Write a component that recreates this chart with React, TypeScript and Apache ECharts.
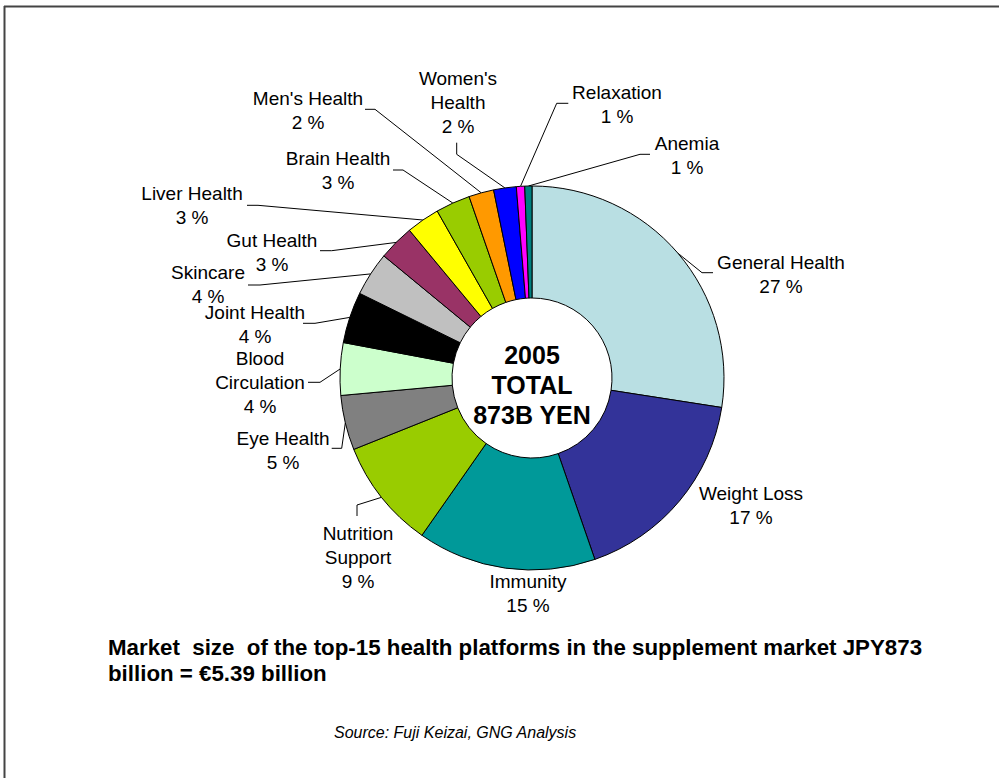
import React, { useEffect, useRef } from "react";
import * as echarts from "echarts";

// ---- Data ----
const categories = [
  "General Health",
  "Weight Loss",
  "Immunity",
  "Nutrition\nSupport",
  "Eye Health",
  "Blood\nCirculation",
  "Joint Health",
  "Skincare",
  "Gut Health",
  "Liver Health",
  "Brain Health",
  "Men's Health",
  "Women's\nHealth",
  "Relaxation",
  "Anemia",
];
// share of the market (%)
const shares = [27.4, 17.2, 15.0, 9.2, 4.6, 4.4, 4.3, 3.7, 3.0, 2.8, 2.9, 2.1, 1.9, 0.7, 0.6];
const colors = [
  "#B9DFE3", "#333399", "#009999", "#99CC00", "#808080",
  "#CCFFCC", "#000000", "#C0C0C0", "#993366", "#FFFF00",
  "#99CC00", "#FF9900", "#0000FF", "#FF00FF", "#008080",
];
const centerLines = ["2005", "TOTAL", "873B YEN"];
const titleLines = [
  "Market  size  of the top-15 health platforms in the supplement market JPY873",
  "billion = €5.39 billion",
];
const sourceText = "Source: Fuji Keizai, GNG Analysis";

// ---- Layout (positions only) ----
const CX = 532;
const CY = 378;
const R_OUT = 192;
const R_IN = 80;
// label block centres
const labelPos: number[][] = [
  [781, 274], [751, 505], [528, 593], [358, 557], [283, 450],
  [260, 382], [255, 324], [208, 284], [272, 252], [192, 205.5],
  [338, 170], [308, 110], [458, 102.5], [617, 104], [687, 155.5],
];
// leader line elbow + end, null = no leader
const leader: (number[] | null)[] = [
  [702, 272.7, 713, 272.7],
  null,
  null,
  [357, 505, 357, 516],
  [341.7, 448.3, 331.7, 448.3],
  [320, 382.3, 308, 382.3],
  [315, 323.3, 303, 323.3],
  [260, 285, 248, 285],
  [331.7, 250.7, 320, 250.7],
  [258, 205.3, 247, 205.3],
  [403, 170, 393, 170],
  [375, 109.3, 365, 109.3],
  [456.7, 154.3, 456.7, 142.7],
  [556.7, 103.3, 568.3, 103.3],
  [640, 154.3, 650, 154.3],
];

const FONT = "'Liberation Sans', Arial, Helvetica, sans-serif";

export default function App() {
  const ref = useRef<HTMLDivElement>(null);
  useEffect(() => {
    if (!ref.current) return;
    const chart = echarts.init(ref.current, null, { renderer: "svg" });
    const total = shares.reduce((a, b) => a + b, 0);
    // mid-angle edge points computed from data
    const edgePts: number[][] = [];
    let acc = 0;
    shares.forEach((v) => {
      const mid = ((acc + v / 2) / total) * Math.PI * 2;
      acc += v;
      edgePts.push([CX + R_OUT * Math.sin(mid), CY - R_OUT * Math.cos(mid)]);
    });

    chart.setOption({
      animation: false,
      backgroundColor: "#ffffff",
      graphic: [
        { type: "line", shape: { x1: 4, y1: 6.5, x2: 999, y2: 6.5 }, style: { stroke: "#444", lineWidth: 2 } },
        { type: "line", shape: { x1: 4.5, y1: 6, x2: 4.5, y2: 778 }, style: { stroke: "#444", lineWidth: 2 } },
        {
          type: "text",
          x: CX,
          y: 385,
          style: {
            text: centerLines.join("\n"),
            fill: "#000",
            font: `bold 25px ${FONT}`,
            lineHeight: 30,
            align: "center",
            verticalAlign: "middle",
          },
          z: 100,
        },
        {
          type: "text",
          x: 108,
          y: 634,
          style: {
            text: titleLines.join("\n"),
            fill: "#000",
            font: `bold 22.3px ${FONT}`,
            lineHeight: 26,
          },
        },
        {
          type: "text",
          x: 334,
          y: 724,
          style: {
            text: sourceText,
            fill: "#000",
            font: `italic 16px ${FONT}`,
          },
        },
      ],
      series: [
        {
          type: "pie",
          center: [CX, CY],
          radius: [R_IN, R_OUT],
          startAngle: 90,
          clockwise: true,
          avoidLabelOverlap: false,
          itemStyle: { borderColor: "#000", borderWidth: 1 },
          emphasis: { disabled: true },
          label: {
            show: true,
            position: "outside",
            color: "#000",
            fontFamily: FONT,
            fontSize: 19,
            lineHeight: 24,
            align: "center",
            formatter: (p: any) => `${p.name}\n${Math.round(p.percent)} %`,
          },
          labelLine: {
            show: true,
            length: 10,
            length2: 10,
            lineStyle: { color: "#000", width: 1 },
          },
          labelLayout: (params: any) => {
            const i = params.dataIndex;
            const pos = labelPos[i];
            const l = leader[i];
            const res: any = {
              x: pos[0],
              y: pos[1],
              align: "center",
              verticalAlign: "middle",
            };
            if (l) {
              res.labelLinePoints = [edgePts[i], [l[0], l[1]], [l[2], l[3]]];
            }
            return res;
          },
          data: categories.map((name, i) => ({
            name,
            value: shares[i],
            itemStyle: { color: colors[i] },
            labelLine: { show: leader[i] !== null },
          })),
        },
      ],
    });
    return () => chart.dispose();
  }, []);
  return (
    <div
      ref={ref}
      style={{ position: "absolute", left: 0, top: 0, width: 999, height: 778 }}
    />
  );
}
